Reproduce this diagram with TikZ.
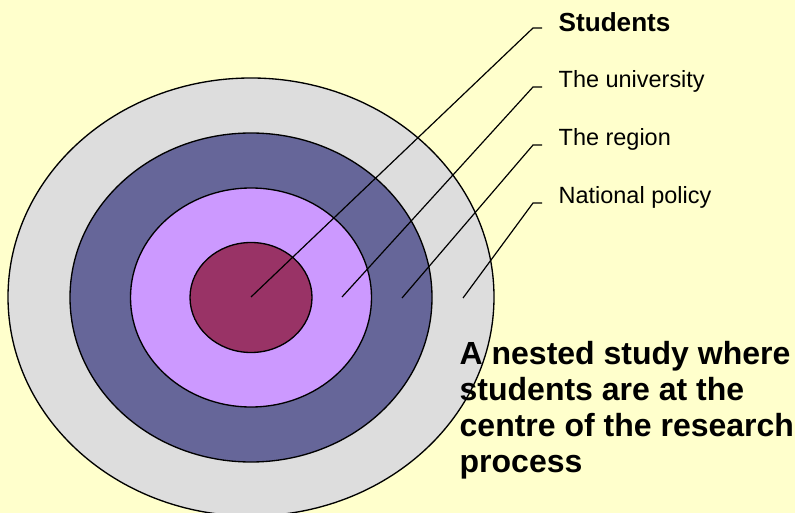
\documentclass[tikz,border=0pt]{standalone}
\usepackage{fontspec}
\setmainfont{Liberation Sans}
\definecolor{bg}{HTML}{FFFFCC}
\definecolor{nat}{HTML}{DDDDDD}
\definecolor{reg}{HTML}{666699}
\definecolor{uni}{HTML}{CC99FF}
\definecolor{stu}{HTML}{993366}

\begin{document}
\begin{tikzpicture}[x=0.75pt, y=-0.75pt, line width=1pt,
    ring/.style={draw=black},
    leader/.style={draw=black, line width=0.9pt},
    lab/.style={anchor=base west, inner sep=0pt, font=\fontsize{17.6}{20}\selectfont}]
    \useasboundingbox (0,0) rectangle (795,513);
    \clip (0,0) rectangle (795,513);
    \fill[bg] (0,0) rectangle (795,513);

    % nested rings
    \draw[ring, fill=nat] (251,297) ellipse [x radius=243, y radius=219];
    \draw[ring, fill=reg] (251,297.5) ellipse [x radius=181, y radius=164.5];
    \draw[ring, fill=uni] (251,297.5) ellipse [x radius=120.5, y radius=109.5];
    \draw[ring, fill=stu] (251,297.5) ellipse [x radius=61, y radius=55];

    % labels
    \node at (558,32) (lstu) [lab, font=\fontsize{19.6}{22}\selectfont\bfseries] {Students};
    \node at (558,88) (luni) [lab] {The university};
    \node at (558,146) (lreg) [lab] {The region};
    \node at (558,204) (lnat) [lab] {National policy};

    % leader lines
    \coordinate (pstu) at (251,297);
    \coordinate (puni) at (342,297);
    \coordinate (preg) at (402,298);
    \coordinate (pnat) at (463,298);
    \coordinate (kstu) at (533,28);
    \coordinate (kuni) at (533,87);
    \coordinate (kreg) at (533,145);
    \coordinate (knat) at (533,203);
    \draw[leader] (pstu) -- (kstu) -- ++(9,0);
    \draw[leader] (puni) -- (kuni) -- ++(9,0);
    \draw[leader] (preg) -- (kreg) -- ++(9,0);
    \draw[leader] (pnat) -- (knat) -- ++(9,0);

    \node at (459,472) (note) [anchor=base west, inner sep=0pt, align=left,
        font=\fontsize{24}{27}\selectfont\bfseries]
        {A nested study where\\students are at the\\centre of the research\\process};
\end{tikzpicture}
\end{document}
